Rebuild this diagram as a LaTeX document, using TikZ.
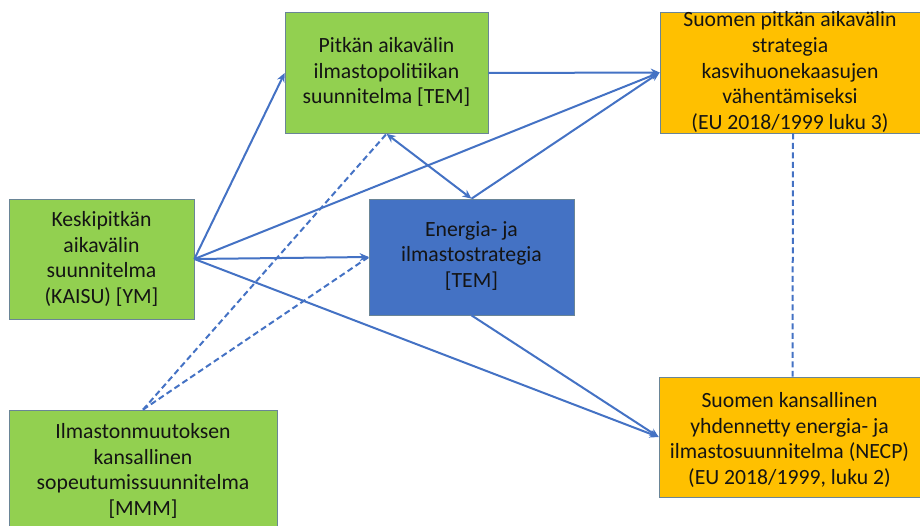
\documentclass[tikz,border=0pt]{standalone}
\usepackage{fontspec}
\setmainfont{Carlito}
\usetikzlibrary{arrows.meta}
\definecolor{boxgreen}{HTML}{92D050}
\definecolor{boxorange}{HTML}{FFC000}
\definecolor{boxblue}{HTML}{4472C4}
\definecolor{linkblue}{HTML}{4472C4}
\definecolor{edgegray}{HTML}{6A8596}
\definecolor{txt}{HTML}{141414}
\begin{document}
\begin{tikzpicture}[x=1pt,y=-1pt,
  boxshape/.style={draw=edgegray, line width=0.7pt, inner sep=0pt, rectangle},
  greenbox/.style={boxshape, fill=boxgreen},
  orangebox/.style={boxshape, fill=boxorange},
  bluebox/.style={boxshape, fill=boxblue},
  boxtext/.style={align=center, text=txt, inner sep=0pt, font=\fontsize{21.7}{25.6}\selectfont},
  link/.style={draw=linkblue, line width=2pt, -{Stealth[length=9pt,width=8pt]}},
  duallink/.style={draw=linkblue, line width=2pt, {Stealth[length=9pt,width=8pt]}-{Stealth[length=9pt,width=8pt]}},
  dashlink/.style={draw=linkblue, line width=2pt, dash pattern=on 6pt off 3.5pt}
]
\useasboundingbox (0,0) rectangle (920,525);
\begin{scope}
\clip (0,0) rectangle (920,525);
% boxes
\node[greenbox, minimum width=203pt, minimum height=121pt] (A) at (386.5,73) {};
\node[orangebox, minimum width=260pt, minimum height=121pt] (B) at (790,72.5) {};
\node[greenbox, minimum width=185pt, minimum height=120pt] (C) at (101.5,259) {};
\node[bluebox, minimum width=205pt, minimum height=116pt] (D) at (471.5,257) {};
\node[greenbox, minimum width=268pt, minimum height=120pt] (E) at (143,470) {};
\node[orangebox, minimum width=261pt, minimum height=120pt] (F) at (789.5,437) {};
\end{scope}
% texts
\node[boxtext] (At) at (386.5,72) {Pitkän aikavälin\\ilmastopolitiikan\\suunnitelma [TEM]};
\node[boxtext] (Bt) at (790,72) {Suomen pitkän aikavälin\\strategia\\kasvihuonekaasujen\\vähentämiseksi\\(EU 2018/1999 luku 3)};
\node[boxtext] (Ct) at (101.5,259) {Keskipitkän\\aikavälin\\suunnitelma\\(KAISU) [YM]};
\node[boxtext] (Dt) at (471.5,256) {Energia- ja\\ilmastostrategia\\{}[TEM]};
\node[boxtext] (Et) at (143,471) {Ilmastonmuutoksen\\kansallinen\\sopeutumissuunnitelma\\{}[MMM]};
\node[boxtext] (Ft) at (789.5,440) {Suomen kansallinen\\yhdennetty energia- ja\\ilmastosuunnitelma (NECP)\\(EU 2018/1999, luku 2)};
% connectors
\draw[link] (C.east) -- (A.west);
\draw[link] (C.east) -- (B.west);
\draw[link] (C.east) -- (D.west);
\draw[link] (C.east) -- (F.west);
\draw[link] (A.east) -- (B.west);
\draw[link] (D.north) -- (B.west);
\draw[duallink] (A.south) -- (D.north);
\draw[link] (D.south) -- (F.west);
\draw[dashlink] (E.north) -- (A.south);
\draw[dashlink] (E.north) -- (D.west);
\draw[dashlink] ([xshift=3pt]B.south) -- ([xshift=3pt]F.north);
\end{tikzpicture}
\end{document}
